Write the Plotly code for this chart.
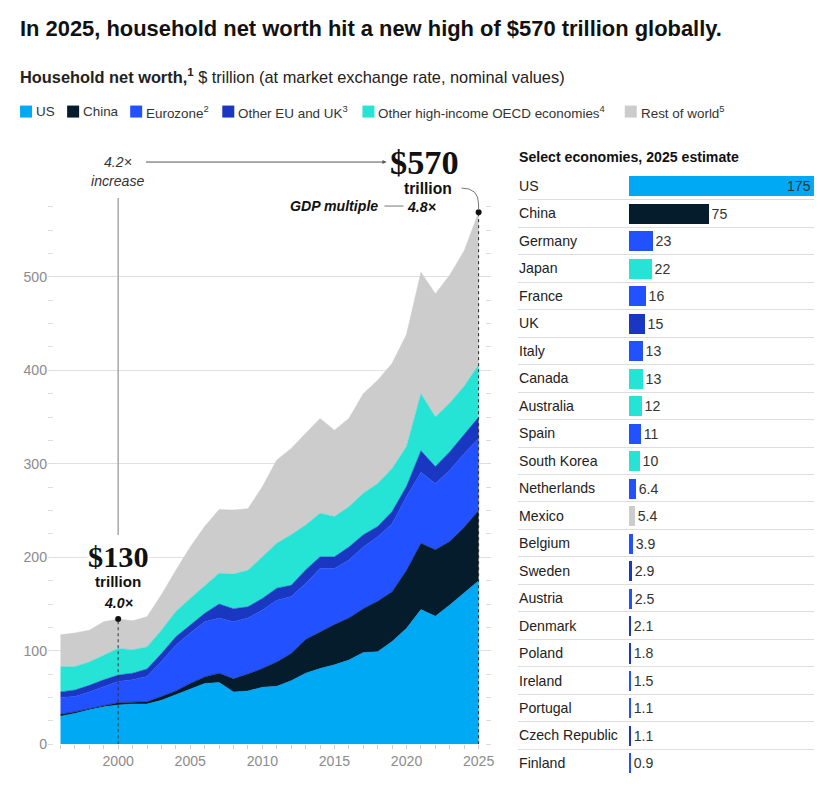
import plotly.graph_objects as go

# household net worth, $ trillion
years = list(range(1996, 2026))
us = [30, 33, 37, 40, 42, 43, 43, 47, 53, 59, 65, 66, 56, 57, 61, 62, 68, 76, 81, 85,
      90, 98, 99, 110, 124, 144, 137, 149, 162, 175]
china = [2, 1.5, 1, 1, 2.5, 2, 2.5, 4, 4, 6, 7, 10, 14, 18, 20, 26, 29, 36, 39, 43,
         45, 47, 54, 53, 62, 71, 71, 68, 70, 75]
eurozone = [18, 16.5, 18, 20.5, 22.5, 24, 27, 37.5, 49, 54, 59, 59, 61, 60, 62.5, 66, 61, 60, 68, 60,
            62, 66, 69, 73, 79, 76, 71, 76, 79, 77]
other_eu = [6, 7, 7, 7.5, 7, 7, 8, 8.5, 9, 9, 9, 15, 14, 12, 12.5, 13, 12, 14.5, 12.5, 12.5,
            14, 13, 11, 13, 11, 23, 18, 20, 20, 23]
oecd = [27, 25, 25, 26.5, 28.5, 25, 23.5, 25, 27, 28, 29, 33, 37, 39, 44.5, 48, 54, 48, 46.5, 43,
        43, 44.5, 46, 46, 42.5, 61, 53, 52, 52, 56]
rest = [34, 36, 34, 35.5, 31.5, 31, 32.5, 38, 44, 55, 64, 68, 68.5, 66, 75, 89, 92.5, 98, 101.5, 92.5,
        94.5, 106.5, 110.5, 112.5, 120, 130, 132, 137, 145, 163]

region_names = ["US", "China", "Eurozone<sup>2</sup>", "Other EU and UK<sup>3</sup>",
                "Other high-income OECD economies<sup>4</sup>", "Rest of world<sup>5</sup>"]
region_colors = ["#00a9f4", "#051c2c", "#2251ff", "#1a37c2", "#25e4d5", "#cccccc"]
series = [us, china, eurozone, other_eu, oecd, rest]

# select economies, 2025 estimate
countries = ["US", "China", "Germany", "Japan", "France", "UK", "Italy", "Canada", "Australia",
             "Spain", "South Korea", "Netherlands", "Mexico", "Belgium", "Sweden", "Austria",
             "Denmark", "Poland", "Ireland", "Portugal", "Czech Republic", "Finland"]
country_values = [175, 75, 23, 22, 16, 15, 13, 13, 12, 11, 10, 6.4, 5.4, 3.9, 2.9, 2.5,
                  2.1, 1.8, 1.5, 1.1, 1.1, 0.9]
country_region = [0, 1, 2, 4, 2, 3, 2, 4, 4, 2, 4, 2, 5, 2, 3, 2, 3, 3, 2, 2, 3, 2]

# page has an 8px body margin and the shot comes out ~1% smaller than the page
OFF = 8
SX, SY = 835 / 840, 785 / 793
FW, FH = 843 - 2 * OFF, 793 - 2 * OFF
SANS = "Liberation Sans, Arial, sans-serif"
SERIF = "Liberation Serif, DejaVu Serif, serif"
TXT = "#222222"


def px(x):
    return min(max((x / SX - OFF) / FW, 0), 1)


def py(y):
    return min(max(1 - (y / SY - OFF) / FH, 0), 1)


def fs(size):
    return size / SY


def label(x, y, text, size, color=TXT, xanchor="center", xref="paper", **kw):
    return dict(x=x, y=py(y), xref=xref, yref="paper", text=text, xanchor=xanchor,
                yanchor="middle", font=dict(size=fs(size), color=color, **kw.pop("font", {})),
                showarrow=False, **kw)


totals = [sum(v) for v in zip(*series)]

fig = go.Figure()

for name, vals, col in zip(region_names, series, region_colors):
    fig.add_trace(go.Scatter(x=years, y=vals, stackgroup="one", mode="lines",
                             line=dict(width=0.5, color=col), fillcolor=col,
                             name=name, showlegend=False, hoverinfo="x+y+name"))

i0 = years.index(2000)
fig.add_trace(go.Scatter(x=[2000, 2025], y=[totals[i0], totals[-1]], mode="markers",
                         marker=dict(size=6, color="#111111"), showlegend=False,
                         hoverinfo="skip"))

bar_colors = [region_colors[r] for r in country_region]
fig.add_trace(go.Bar(x=country_values, y=list(range(len(countries))), orientation="h",
                     marker=dict(color=bar_colors, line=dict(width=0)), width=0.73,
                     text=[f"{v:g}" for v in country_values],
                     textposition=["inside"] + ["outside"] * (len(countries) - 1),
                     insidetextanchor="end", constraintext="none",
                     textfont=dict(family=SANS, size=fs(14), color="#333333"),
                     cliponaxis=False, xaxis="x2", yaxis="y2", showlegend=False))

# bar rows: first centre at 186px, 27.52px apart
row0, row_h = 186, 27.52
bar_bottom = 778
tick_font = dict(size=fs(14), color="#8c8c8c")
fig.update_layout(
    width=FW, height=FH, margin=dict(l=0, r=0, t=0, b=0),
    paper_bgcolor="white", plot_bgcolor="white",
    font=dict(family=SANS, color=TXT),
    xaxis=dict(domain=[px(48), px(490)], range=[1995.14, 2025.83],
               tickvals=list(range(2000, 2026, 5)), ticks="outside", ticklen=4,
               tickcolor="#cccccc", showgrid=False, zeroline=False, showline=False,
               tickfont=tick_font,
               minor=dict(dtick=1, tick0=1996, ticks="outside", ticklen=4, tickcolor="#cccccc")),
    yaxis=dict(domain=[py(744.3), py(192.7)], range=[0, 590],
               tickvals=list(range(0, 501, 100)), showgrid=True, gridcolor="#e0e0e0",
               zeroline=False, showline=False, ticks="", tickfont=tick_font,
               minor=dict(dtick=25, ticks="inside", ticklen=5, tickcolor="#dddddd")),
    yaxis3=dict(overlaying="y", side="right", anchor="x", range=[0, 590],
                tickvals=list(range(0, 501, 100)), showgrid=False, zeroline=False,
                showline=False, ticks="", showticklabels=False,
                minor=dict(dtick=25, ticks="inside", ticklen=5, tickcolor="#dddddd")),
    xaxis2=dict(domain=[px(517), px(813)], range=[-105, 175], anchor="y2",
                visible=False),
    yaxis2=dict(domain=[py(bar_bottom), py(row0 - row_h * 0.49)],
                range=[(bar_bottom - row0) / row_h, -0.49], anchor="x2",
                tick0=0.5, dtick=1, showgrid=True, gridcolor="#dddddd",
                showticklabels=False, zeroline=False, ticks=""),
    bargap=0,
)
# invisible trace so the right-hand tick axis is drawn
fig.add_trace(go.Scatter(x=[years[0]], y=[0], yaxis="y3", mode="markers",
                         marker=dict(opacity=0), showlegend=False, hoverinfo="skip"))

ann = []
# title block
ann.append(label(px(18), 28, "<b>In 2025, household net worth hit a new high of $570 trillion globally.</b>",
                 21.7, "#111111", xanchor="left"))
ann.append(label(px(18), 76, "<b>Household net worth,<sup>1</sup></b> $ trillion (at market exchange rate, nominal values)",
                 16.2, TXT, xanchor="left"))

# legend
legend_x = [20, 67, 130, 222, 362, 624]
shapes = []
for lx, name, col in zip(legend_x, region_names, region_colors):
    shapes.append(dict(type="rect", xref="paper", yref="paper", x0=px(lx), x1=px(lx + 12),
                       y0=py(117.5), y1=py(105.5), fillcolor=col, line=dict(width=0)))
    ann.append(label(px(lx + 14), 111.5, name, 13.3, "#333333", xanchor="left"))

# bar chart title and country labels
ann.append(label(px(516), 157, "<b>Select economies, 2025 estimate</b>", 14, "#111111",
                 xanchor="left"))
for i, c in enumerate(countries):
    ann.append(dict(x=px(516), y=i, xref="paper", yref="y2", xanchor="left", yanchor="middle",
                    text=c, font=dict(size=fs(14), color=TXT), showarrow=False))

# 2000 callout
ann.append(label(2000, 162, "<i>4.2×</i>", 14, "#333333", xref="x"))
ann.append(label(2000, 181, "<i>increase</i>", 14, "#333333", xref="x"))
ann.append(label(2000, 557, "<b>$130</b>", 30, "#111111", xref="x", font=dict(family=SERIF),
                 bgcolor="white", borderpad=0))
ann.append(label(2000, 582, "<b>trillion</b>", 15, "#111111", xref="x"))
ann.append(label(2000, 603, "<b><i>4.0×</i></b>", 14, "#111111", xref="x"))
shapes.append(dict(type="line", xref="x", yref="paper", x0=2000, x1=2000,
                   y0=py(535), y1=py(198), line=dict(color="#a8a8a8", width=1.5)))
shapes.append(dict(type="line", xref="x", yref="y", x0=2000, x1=2000, y0=0, y1=totals[i0],
                   line=dict(color="#333333", width=1, dash="dot")))
ann.append(dict(x=px(386), y=py(162), xref="paper", yref="paper", text="", showarrow=True,
                ax=-242, ay=0, arrowhead=2, arrowsize=0.8, arrowwidth=1, arrowcolor="#555555"))

# 2025 callout
ann.append(label(px(424), 162, "<b>$570</b>", 34, "#111111", font=dict(family=SERIF)))
ann.append(label(px(427), 188, "<b>trillion</b>", 15.5, "#111111"))
ann.append(label(px(380), 206, "<b><i>GDP multiple</i></b>", 14, "#111111", xanchor="right"))
ann.append(label(px(405), 207, "<b><i>4.8×</i></b>", 14, "#111111", xanchor="left"))
shapes.append(dict(type="line", xref="paper", yref="paper", x0=px(384), x1=px(403),
                   y0=py(206), y1=py(206), line=dict(color="#777777", width=1)))
shapes.append(dict(type="path", xref="paper", yref="paper",
                   path=f"M {px(461)},{py(188)} Q {px(478)},{py(188)} {px(478)},{py(204)} L {px(478)},{py(210)}",
                   line=dict(color="#777777", width=1)))
shapes.append(dict(type="line", xref="x", yref="y", x0=2025, x1=2025, y0=0, y1=totals[-1],
                   line=dict(color="#222222", width=1, dash="dot")))

fig.update_layout(annotations=ann, shapes=shapes)
fig.write_html("out.html")
